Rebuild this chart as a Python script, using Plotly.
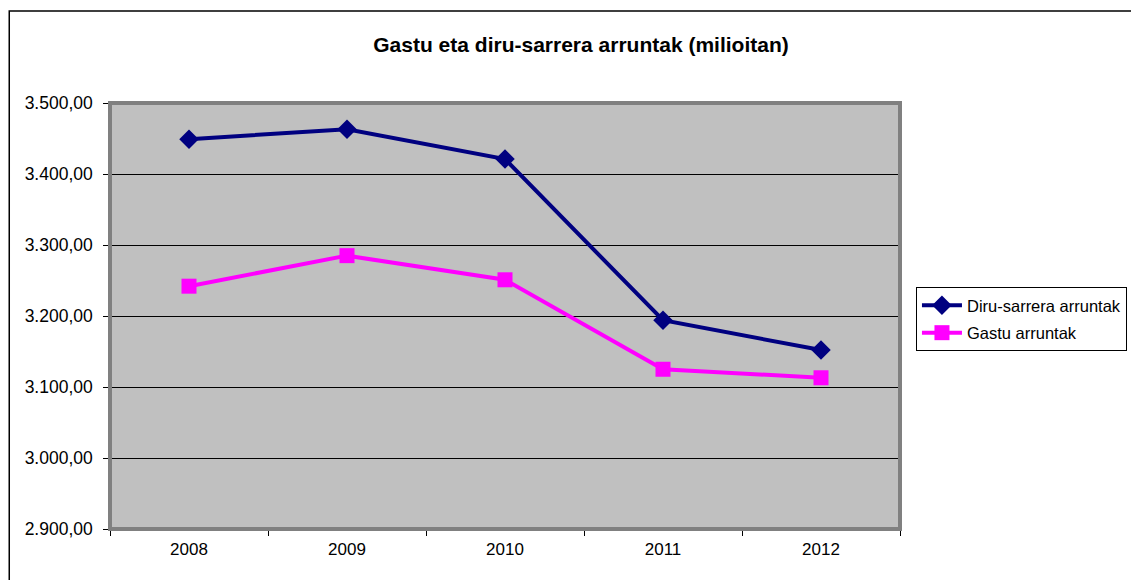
import plotly.graph_objects as go

years = ["2008", "2009", "2010", "2011", "2012"]
diru_sarrera = [3449, 3463, 3421, 3194, 3152]
gastu = [3242, 3285, 3251, 3125, 3113]
title_text = "Gastu eta diru-sarrera arruntak (milioitan)"
names = ["Diru-sarrera arruntak", "Gastu arruntak"]

OFF = 8  # page body margin
W, H = 1139 - OFF, 580 - OFF
L, R, T, B = 110 - OFF, 237, 103 - OFF, 51
pw, ph = W - L - R, H - T - B

def px(xpage):
    return (xpage - OFF - L) / pw

def py(ypage):
    return (OFF + H - B - ypage) / ph

fig = go.Figure()
fig.add_trace(go.Scatter(x=years, y=diru_sarrera, name=names[0], mode="lines+markers",
                         legendgroup="a",
                         line=dict(color="#000080", width=4),
                         marker=dict(symbol="diamond", size=15, color="#000080")))
fig.add_trace(go.Scatter(x=years, y=gastu, name=names[1], mode="lines+markers",
                         legendgroup="b",
                         line=dict(color="#FF00FF", width=4),
                         marker=dict(symbol="square", size=15, color="#FF00FF")))

# outer chart border
fig.add_shape(type="rect", xref="paper", yref="paper",
              x0=px(9), x1=px(1160), y0=py(600), y1=py(11),
              line=dict(color="#000000", width=1.5), layer="below")
# plot area frame (grey)
fig.add_shape(type="rect", xref="paper", yref="paper", x0=0, x1=1, y0=0, y1=1,
              line=dict(color="#808080", width=4), layer="above")

fig.update_layout(
    width=W, height=H,
    margin=dict(l=L, r=R, t=T, b=B),
    paper_bgcolor="white", plot_bgcolor="#C0C0C0",
    separators=",.",
    font=dict(family="Liberation Sans, Arial, sans-serif", size=17, color="#000"),
    title=dict(text="<b>" + title_text + "</b>", x=(581 - OFF) / W, xanchor="center",
               y=1 - (45 - OFF) / H, yanchor="middle", yref="container",
               font=dict(size=21, color="#000")),
    showlegend=True,
    legend=dict(x=px(918), y=py(287), xanchor="left", yanchor="top",
                bgcolor="white", bordercolor="#000", borderwidth=1,
                font=dict(size=16.5), traceorder="grouped", tracegroupgap=3,
                itemwidth=40),
    xaxis=dict(type="category", range=[-0.5, 4.5], showgrid=False,
               ticks="outside", tickson="boundaries", ticklen=5, tickcolor="#000",
               showline=True, linecolor="#000", linewidth=1.5, zeroline=False,
               ticklabelstandoff=4, tickfont=dict(size=17)),
    yaxis=dict(range=[2900, 3500], dtick=100, tickformat=",.2f",
               showgrid=True, gridcolor="#000", gridwidth=1,
               ticks="outside", ticklen=5, tickcolor="#000",
               showline=True, linecolor="#000", linewidth=1.5, zeroline=False,
               ticklabelstandoff=7, tickfont=dict(size=17.5)),
)

fig.write_html("out.html")
